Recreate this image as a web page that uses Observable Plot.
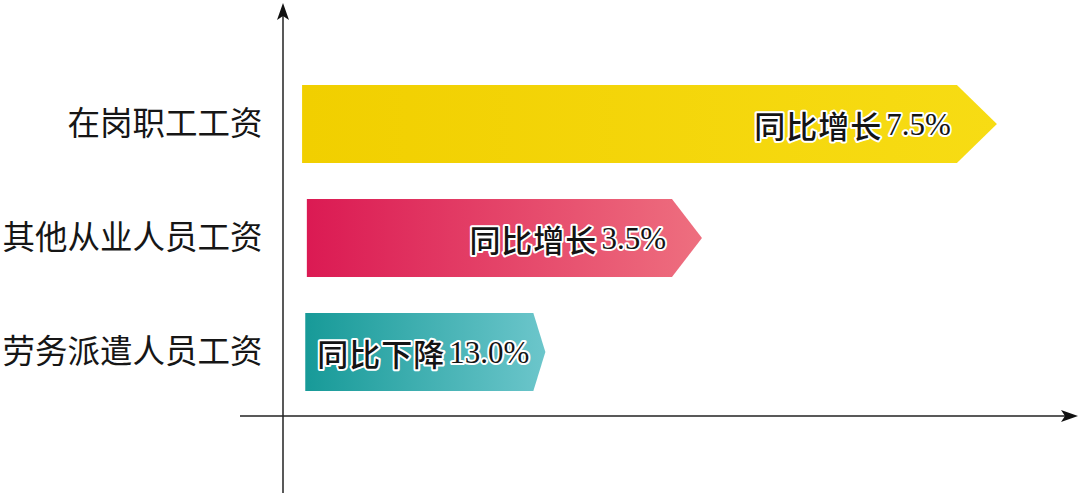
<!DOCTYPE html>
<html>
<head>
<meta charset="utf-8">
<script src="https://cdn.jsdelivr.net/npm/d3@7"></script>
<script src="https://cdn.jsdelivr.net/npm/@observablehq/plot@0.6"></script>
<style>
  html, body { margin: 0; padding: 0; background: #fff; }
  #chart svg { display: block; }
</style>
</head>
<body>
<div id="chart"></div>
<script>
// ---- data ----
const categories = ["在岗职工工资", "其他从业人员工资", "劳务派遣人员工资"];
const changeText = ["同比增长", "同比增长", "同比下降"];
const changeValues = ["7.5%", "3.5%", "13.0%"];
// illustrative bar lengths as drawn (arbitrary units, 0–100 along the axis)
const barLength = [89.8, 52.7, 33.0];
const barStart = [2.4, 3.0, 2.8];

// ---- styles ----
const barColors = [
  ["#f1cf00", "#f7dc14"],
  ["#db1a53", "#ee6f7f"],
  ["#179a98", "#6cc6cb"]
];
const tipLen = [40, 30, 12];

const data = categories.map((c, i) => ({
  category: c, text: changeText[i], value: changeValues[i], start: barStart[i], length: barLength[i]
}));

function arrowBars(index, scales, values, dimensions) {
  const {x, y} = scales;
  const g = d3.create("svg:g");
  const defs = g.append("defs");
  const bw = y.bandwidth();
  data.forEach((d, i) => {
    const grad = defs.append("linearGradient")
      .attr("id", "grad" + i).attr("x1", "0%").attr("x2", "100%").attr("y1", "0%").attr("y2", "0%");
    grad.append("stop").attr("offset", "0%").attr("stop-color", barColors[i][0]);
    grad.append("stop").attr("offset", "100%").attr("stop-color", barColors[i][1]);
    const x0 = x(d.start), xt = x(d.length), xb = xt - tipLen[i];
    const y0 = y(d.category), y1 = y0 + bw, ym = y0 + bw / 2;
    g.append("path")
      .attr("d", `M${x0},${y0}L${xb},${y0}L${xt},${ym}L${xb},${y1}L${x0},${y1}Z`)
      .attr("fill", `url(#grad${i})`);
    const t = g.append("text")
      .attr("x", xb - (i === 2 ? 4 : 6)).attr("y", ym)
      .attr("text-anchor", "end").attr("dominant-baseline", "central")
      .attr("fill", "#141414")
      .attr("stroke", "#ffffff").attr("stroke-width", 4).attr("stroke-linejoin", "round")
      .attr("paint-order", "stroke");
    t.append("tspan")
      .attr("font-family", "'Noto Sans CJK SC', sans-serif")
      .attr("font-size", 31).attr("font-weight", 500)
      .attr("letter-spacing", 1)
      .text(d.text);
    t.append("tspan")
      .attr("font-family", "'Liberation Serif', 'DejaVu Serif', serif")
      .attr("font-size", 31)
      .attr("dx", 4)
      .text(d.value);
  });
  return g.node();
}

function axesMark(index, scales, values, dimensions) {
  const {x} = scales;
  const {width, height} = dimensions;
  const g = d3.create("svg:g").attr("fill", "none");
  const ax = x(0);
  const ay = 416;
  // vertical axis
  g.append("line").attr("x1", ax).attr("x2", ax).attr("y1", height).attr("y2", 8)
    .attr("stroke", "#222").attr("stroke-width", 1.5);
  g.append("path").attr("d", `M${ax},3L${ax + 6},20L${ax},16L${ax - 6},20Z`).attr("fill", "#111");
  // horizontal axis
  g.append("line").attr("x1", 240).attr("x2", width - 6).attr("y1", ay).attr("y2", ay)
    .attr("stroke", "#222").attr("stroke-width", 1.5);
  g.append("path").attr("d", `M${width - 2},${ay}L${width - 19},${ay - 6}L${width - 15},${ay}L${width - 19},${ay + 6}Z`).attr("fill", "#111");
  return g.node();
}

const chart = Plot.plot({
  width: 1080,
  height: 493,
  margin: 0,
  style: {background: "#fff", overflow: "visible"},
  x: {type: "linear", domain: [0, 100], range: [283, 1078], axis: null},
  y: {type: "band", domain: categories, range: [84, 392], paddingInner: 0.32, paddingOuter: 0, axis: null},
  marks: [
    axesMark,
    arrowBars,
    Plot.text(data, {
      x: 0, y: "category", text: "category", dx: -21,
      textAnchor: "end", fontSize: 32.5, fill: "#161616",
      fontFamily: "'Noto Sans CJK SC', sans-serif"
    })
  ]
});
document.getElementById("chart").appendChild(chart);
</script>
</body>
</html>
